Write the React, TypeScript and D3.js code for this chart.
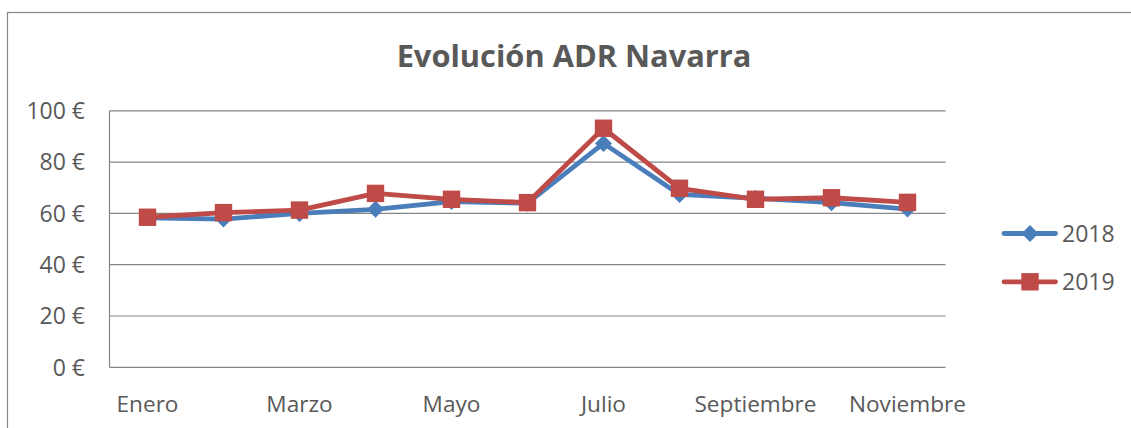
import React from "react";
import * as d3 from "d3";

const months = ["Enero","Febrero","Marzo","Abril","Mayo","Junio","Julio","Agosto","Septiembre","Octubre","Noviembre"];
const shownLabels = ["Enero","Marzo","Mayo","Julio","Septiembre","Noviembre"];
const values2018 = [58.3, 57.8, 60.0, 61.6, 64.6, 64.0, 87.3, 67.4, 65.9, 64.2, 61.7];
const values2019 = [58.5, 60.3, 61.3, 67.8, 65.5, 64.2, 93.2, 69.8, 65.5, 66.1, 64.3];
const yTicks = [0, 20, 40, 60, 80, 100];
const seriesNames = ["2018", "2019"];

const W = 1131, H = 428;
const FONT = "'Open Sans', sans-serif";
const TEXT = "#595959";
const GRID = "#868686";
const BLUE = "#4A7EBB";
const RED = "#BE4B48";

export default function App() {
  const x = d3.scalePoint<string>().domain(months).range([109.5, 945.5]).padding(0.5);
  const y = d3.scaleLinear().domain([0, 100]).range([367.3, 110.8]);
  const line = d3.line<number>().x((_, i) => x(months[i])!).y(d => y(d));

  const diamond = (cx: number, cy: number, r: number) =>
    `M${cx},${cy - r}L${cx + r},${cy}L${cx},${cy + r}L${cx - r},${cy}Z`;

  return (
    <svg width={W} height={H} style={{ position: "absolute", left: 0, top: 0, background: "#fff" }}>
      <rect x={7.5} y={12.5} width={W + 10} height={H + 10} fill="#fff" stroke={GRID} strokeWidth={1.2} />
      <text x={574} y={67} textAnchor="middle" fontFamily={FONT} fontWeight={700} fontSize={30.8} fill={TEXT}>
        Evolución ADR Navarra
      </text>
      {yTicks.map(t => (
        <g key={t}>
          <line x1={109.5} x2={945.5} y1={y(t)} y2={y(t)} stroke={GRID} strokeWidth={1.2} />
          <text x={85} y={y(t)} dy="0.36em" textAnchor="end" fontFamily={FONT} fontSize={23} fill={TEXT}>
            {`${t} €`}
          </text>
        </g>
      ))}
      <line x1={109.5} x2={109.5} y1={y(100)} y2={y(0)} stroke={GRID} strokeWidth={1.2} />
      {shownLabels.map(m => (
        <text key={m} x={x(m)} y={411.5} textAnchor="middle" fontFamily={FONT} fontSize={22.6} fill={TEXT}>
          {m}
        </text>
      ))}
      <path d={line(values2018)!} fill="none" stroke={BLUE} strokeWidth={4.8} strokeLinejoin="round" />
      {values2018.map((v, i) => (
        <path key={i} d={diamond(x(months[i])!, y(v), 8.5)} fill={BLUE} />
      ))}
      <path d={line(values2019)!} fill="none" stroke={RED} strokeWidth={4.8} strokeLinejoin="round" />
      {values2019.map((v, i) => (
        <rect key={i} x={x(months[i])! - 8.7} y={y(v) - 8.7} width={17.4} height={17.4} fill={RED} />
      ))}
      {seriesNames.map((s, i) => {
        const ly = 233.5 + i * 48.3;
        const col = i === 0 ? BLUE : RED;
        return (
          <g key={s}>
            <line x1={1004} x2={1055.5} y1={ly} y2={ly} stroke={col} strokeWidth={4.8} strokeLinecap="round" />
            {i === 0 ? (
              <path d={diamond(1030, ly, 8.5)} fill={col} />
            ) : (
              <rect x={1021.3} y={ly - 8.7} width={17.4} height={17.4} fill={col} />
            )}
            <text x={1062} y={ly} dy="0.36em" fontFamily={FONT} fontSize={23} fill={TEXT}>
              {s}
            </text>
          </g>
        );
      })}
    </svg>
  );
}
